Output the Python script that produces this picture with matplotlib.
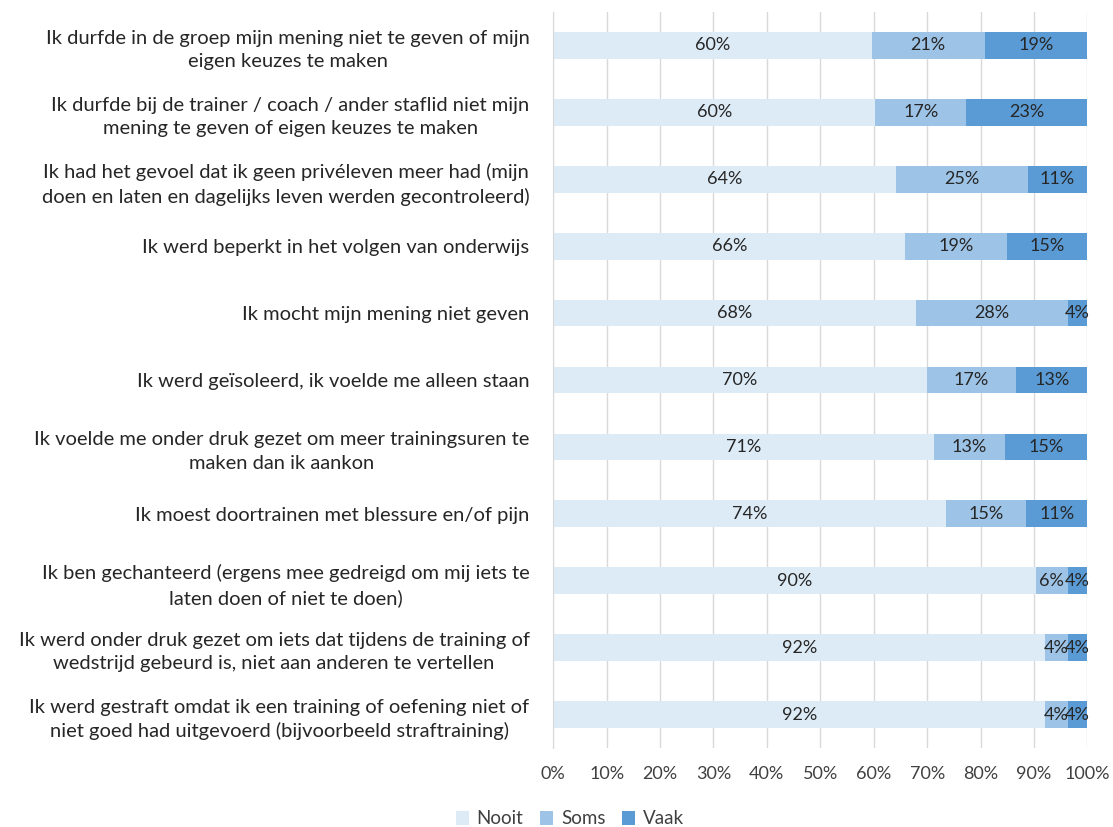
import matplotlib
matplotlib.use("Agg")
import matplotlib.pyplot as plt
import numpy as np

categories = [
    "Ik durfde in de groep mijn mening niet te geven of mijn\neigen keuzes te maken",
    "Ik durfde bij de trainer / coach / ander staflid niet mijn\nmening te geven of eigen keuzes te maken",
    "Ik had het gevoel dat ik geen privéleven meer had (mijn\ndoen en laten en dagelijks leven werden gecontroleerd)",
    "Ik werd beperkt in het volgen van onderwijs",
    "Ik mocht mijn mening niet geven",
    "Ik werd geïsoleerd, ik voelde me alleen staan",
    "Ik voelde me onder druk gezet om meer trainingsuren te\nmaken dan ik aankon",
    "Ik moest doortrainen met blessure en/of pijn",
    "Ik ben gechanteerd (ergens mee gedreigd om mij iets te\nlaten doen of niet te doen)",
    "Ik werd onder druk gezet om iets dat tijdens de training of\nwedstrijd gebeurd is, niet aan anderen te vertellen",
    "Ik werd gestraft omdat ik een training of oefening niet of\nniet goed had uitgevoerd (bijvoorbeeld straftraining)",
]
nooit = [59.6, 60.3, 64.2, 65.9, 67.9, 69.9, 71.2, 73.6, 90.3, 92.1, 92.1]
soms = [21.2, 17.0, 24.6, 19.1, 28.4, 16.8, 13.4, 15.0, 6.0, 4.2, 4.2]
vaak = [19.2, 22.7, 11.2, 15.0, 3.7, 13.3, 15.4, 11.4, 3.7, 3.7, 3.7]
series_names = ["Nooit", "Soms", "Vaak"]
colors = ["#DDEBF7", "#9DC3E6", "#5B9BD5"]
xticks = list(range(0, 101, 10))

plt.rcParams['font.family'] = ['Lato', 'DejaVu Sans']
fig = plt.figure(figsize=(11.13, 8.27), dpi=100)
ax = fig.add_axes([0.497, 0.0955, 0.48, 0.89])

y = np.arange(len(categories))
left = np.zeros(len(categories))
for name, vals, col in zip(series_names, [nooit, soms, vaak], colors):
    vals = np.array(vals)
    ax.barh(y, vals, left=left, height=0.4, color=col, label=name, zorder=2)
    for yi, l, v in zip(y, left, vals):
        ax.text(l + v / 2, yi, f"{int(v + 0.5)}%", ha='center', va='center',
                fontsize=13, color='#262626', zorder=3)
    left += vals

ax.set_ylim(len(categories) - 0.5, -0.5)
ax.set_xlim(0, 100)
ax.set_xticks(xticks)
ax.set_xticklabels([f"{t}%" for t in xticks], fontsize=13, color='#404040')
ax.set_yticks(y)
ax.set_yticklabels(categories, fontsize=14.5, color='#262626')
for t in ax.get_yticklabels():
    t.set_multialignment('center')
    t.set_linespacing(1.45)
ax.tick_params(axis='both', length=0)
ax.tick_params(axis='y', pad=17)
ax.tick_params(axis='x', pad=13)
ax.grid(axis='x', color='#D9D9D9', linewidth=1, zorder=0)
for s in ['top', 'right', 'bottom']:
    ax.spines[s].set_visible(False)
ax.spines['left'].set_color('#D9D9D9')

handles, labels = ax.get_legend_handles_labels()
fig.legend(handles, labels, loc='center', bbox_to_anchor=(570 / 1113, 1 - 819 / 827),
           ncol=3, frameon=False, fontsize=13.5, handlelength=0.7, handleheight=0.7,
           handletextpad=0.4, columnspacing=0.9, labelcolor='#404040')

fig.savefig("out.png", dpi=100)
